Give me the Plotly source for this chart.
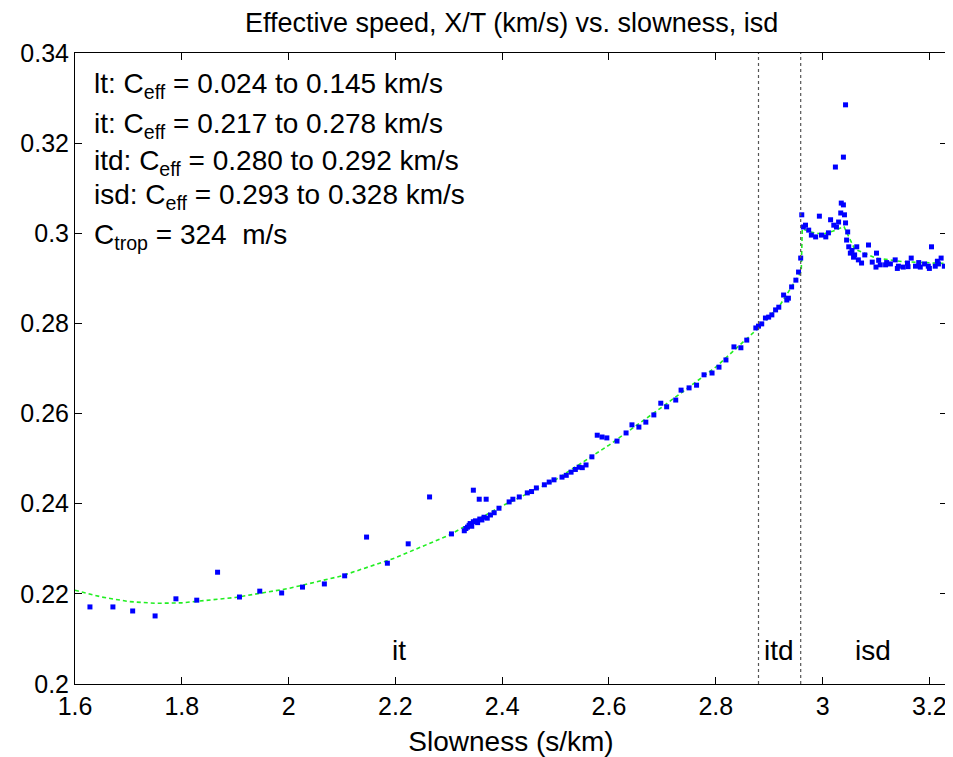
import plotly.graph_objects as go

# blue points: slowness (s/km) vs effective speed X/T (km/s)
slowness = [
    1.628, 1.671, 1.708, 1.750, 1.789, 1.828, 1.867, 1.908, 1.946, 1.987,
    2.026, 2.067, 2.105, 2.146, 2.185, 2.224, 2.264, 2.305,
    2.329, 2.332, 2.335, 2.338, 2.340, 2.343, 2.346, 2.350, 2.354, 2.358,
    2.362, 2.366, 2.372, 2.378, 2.385, 2.394, 2.346, 2.357, 2.370,
    2.413, 2.420, 2.432, 2.447, 2.455, 2.464, 2.479, 2.488, 2.497, 2.512,
    2.520, 2.529, 2.537, 2.544, 2.550, 2.557, 2.568,
    2.578, 2.587, 2.596, 2.615, 2.632, 2.643, 2.656, 2.669, 2.684, 2.697,
    2.708, 2.725, 2.735, 2.750, 2.764, 2.778, 2.793, 2.806, 2.819, 2.834,
    2.847, 2.858, 2.875, 2.880, 2.886, 2.893, 2.899, 2.905, 2.912, 2.918,
    2.927, 2.933, 2.936, 2.942, 2.950, 2.955, 2.959,
    2.961, 2.964, 2.968, 2.974, 2.979, 2.987, 2.994, 2.998, 3.006, 3.011,
    3.015, 3.021, 3.024, 3.026, 3.030, 3.034, 3.035, 3.039, 3.043, 3.039,
    3.041, 3.043, 3.045, 3.047, 3.049, 3.052, 3.058, 3.064, 3.067, 3.073,
    3.079, 3.086, 3.093, 3.101, 3.108, 3.118, 3.127, 3.136, 3.142, 3.151,
    3.159, 3.166, 3.174, 3.183, 3.191, 3.198, 3.204, 3.211, 3.217, 3.222,
    3.228, 3.100, 3.120, 3.140, 3.160, 3.180, 3.200, 3.215, 3.105, 3.055,
    3.060,
]
speed = [
    0.2171, 0.2171, 0.2162, 0.2151, 0.2189, 0.2186, 0.2248, 0.2193, 0.2206, 0.2202,
    0.2215, 0.2222, 0.2240, 0.2326, 0.2268, 0.2311, 0.2415, 0.2333,
    0.2340, 0.2345, 0.2348, 0.2352, 0.2356, 0.2350, 0.2360, 0.2362, 0.2358, 0.2366,
    0.2364, 0.2370, 0.2368, 0.2375, 0.2380, 0.2390, 0.2430, 0.2410, 0.2410,
    0.2404, 0.2410, 0.2415, 0.2424, 0.2427, 0.2435, 0.2442, 0.2448, 0.2453, 0.2459,
    0.2463, 0.2470, 0.2476, 0.2481, 0.2480, 0.2486, 0.2504,
    0.2552, 0.2548, 0.2546, 0.2539, 0.2557, 0.2575, 0.2570, 0.2581, 0.2597, 0.2623,
    0.2615, 0.2630, 0.2652, 0.2657, 0.2663, 0.2686, 0.2690, 0.2703, 0.2719, 0.2748,
    0.2746, 0.2763, 0.2790, 0.2794, 0.2799, 0.2812, 0.2814, 0.2819, 0.2830, 0.2836,
    0.2863, 0.2852, 0.2856, 0.2881, 0.2896, 0.2914, 0.2945,
    0.3041, 0.3014, 0.3018, 0.3007, 0.2996, 0.2992, 0.3038, 0.2996, 0.2992, 0.3001,
    0.3030, 0.3018, 0.3147, 0.3014, 0.3025, 0.3045, 0.3067, 0.3169, 0.3285, 0.3063,
    0.3041, 0.3023, 0.2985, 0.3003, 0.2970, 0.2956, 0.2947, 0.2970, 0.2941, 0.2934,
    0.2952, 0.2974, 0.2936, 0.2956, 0.2930, 0.2930, 0.2932, 0.2941, 0.2927, 0.2925,
    0.2934, 0.2945, 0.2927, 0.2925, 0.2932, 0.2927, 0.2970, 0.2927, 0.2932, 0.2945,
    0.2927, 0.2925, 0.2935, 0.2922, 0.2926, 0.2935, 0.2922, 0.2938, 0.2940, 0.2962,
    0.2952,
]

# green fitted curve
fit_slowness = [1.60, 1.65, 1.70, 1.75, 1.80, 1.90, 2.00, 2.10, 2.20, 2.30, 2.40,
                2.50, 2.60, 2.70, 2.80, 2.88, 2.92, 2.96, 2.962, 2.98, 3.00, 3.02,
                3.04, 3.06, 3.10, 3.15, 3.23]
fit_speed = [0.2208, 0.2193, 0.2183, 0.2179, 0.2180, 0.2192, 0.2212, 0.2240, 0.2280,
             0.2330, 0.2395, 0.2453, 0.2530, 0.2615, 0.2703, 0.2790, 0.2840, 0.2915,
             0.3010, 0.3002, 0.2998, 0.3005, 0.3015, 0.2965, 0.2945, 0.2937, 0.2933]

# phase boundaries (dotted lines)
boundaries = [2.880, 2.959]

legend_lines = [
    "lt: C<sub>eff</sub> = 0.024 to 0.145 km/s",
    "it: C<sub>eff</sub> = 0.217 to 0.278 km/s",
    "itd: C<sub>eff</sub> = 0.280 to 0.292 km/s",
    "isd: C<sub>eff</sub> = 0.293 to 0.328 km/s",
    "C<sub>trop</sub> = 324  m/s",
]
region_names = ["it", "itd", "isd"]
region_x = [2.207, 2.918, 3.095]

x_ticks = [1.6, 1.8, 2.0, 2.2, 2.4, 2.6, 2.8, 3.0, 3.2]
x_ticktext = ["1.6", "1.8", "2", "2.2", "2.4", "2.6", "2.8", "3", "3.2"]
y_ticks = [0.20, 0.22, 0.24, 0.26, 0.28, 0.30, 0.32, 0.34]
y_ticktext = ["0.2", "0.22", "0.24", "0.26", "0.28", "0.3", "0.32", "0.34"]

font = "Liberation Sans, Arial, sans-serif"

fig = go.Figure()
fig.add_trace(go.Scatter(
    x=fit_slowness, y=fit_speed, mode="lines",
    line=dict(color="#22ee22", width=1.6, dash="4px,3px"),
    showlegend=False,
))
fig.add_trace(go.Scatter(
    x=slowness, y=speed, mode="markers",
    marker=dict(color="#0000ff", size=5, symbol="square"),
    showlegend=False,
))

for b in boundaries:
    fig.add_shape(type="line", x0=b, x1=b, y0=0, y1=1, yref="paper",
                  line=dict(color="#555555", width=1.2, dash="dot"))

legend_y = [0.3329, 0.3240, 0.3158, 0.3081, 0.2992]
for txt, yy in zip(legend_lines, legend_y):
    fig.add_annotation(x=1.632, y=yy, text=txt, showarrow=False,
                       xanchor="left", yanchor="middle",
                       font=dict(size=28, color="black", family=font))

for name, xx in zip(region_names, region_x):
    fig.add_annotation(x=xx, y=0.2075, text=name, showarrow=False,
                       xanchor="center", yanchor="middle",
                       font=dict(size=28, color="black", family=font))

# title drawn as an annotation just above the axes box
fig.add_annotation(x=0.5, y=1.048, xref="paper", yref="paper",
                   text="Effective speed, X/T (km/s) vs. slowness, isd",
                   showarrow=False, xanchor="center", yanchor="middle",
                   font=dict(size=27, color="black", family=font))

axis_common = dict(
    showgrid=False, zeroline=False, showline=True, linecolor="black",
    linewidth=1, mirror="ticks", ticks="inside", ticklen=7,
    tickcolor="black", automargin=False,
    tickfont=dict(size=25, color="black", family=font),
)

# page body adds an 8px offset, so the figure is 8px smaller than the window
fig.update_layout(
    width=945, height=749,
    paper_bgcolor="white", plot_bgcolor="white",
    margin=dict(l=67, r=6, t=45, b=73),
    xaxis=dict(range=[1.6, 3.233], tickvals=x_ticks, ticktext=x_ticktext,
               title=dict(text="Slowness (s/km)", standoff=12,
                          font=dict(size=28, color="black", family=font)),
               **axis_common),
    yaxis=dict(range=[0.2, 0.34], tickvals=y_ticks, ticktext=y_ticktext,
               **axis_common),
)

fig.write_html("out.html")
